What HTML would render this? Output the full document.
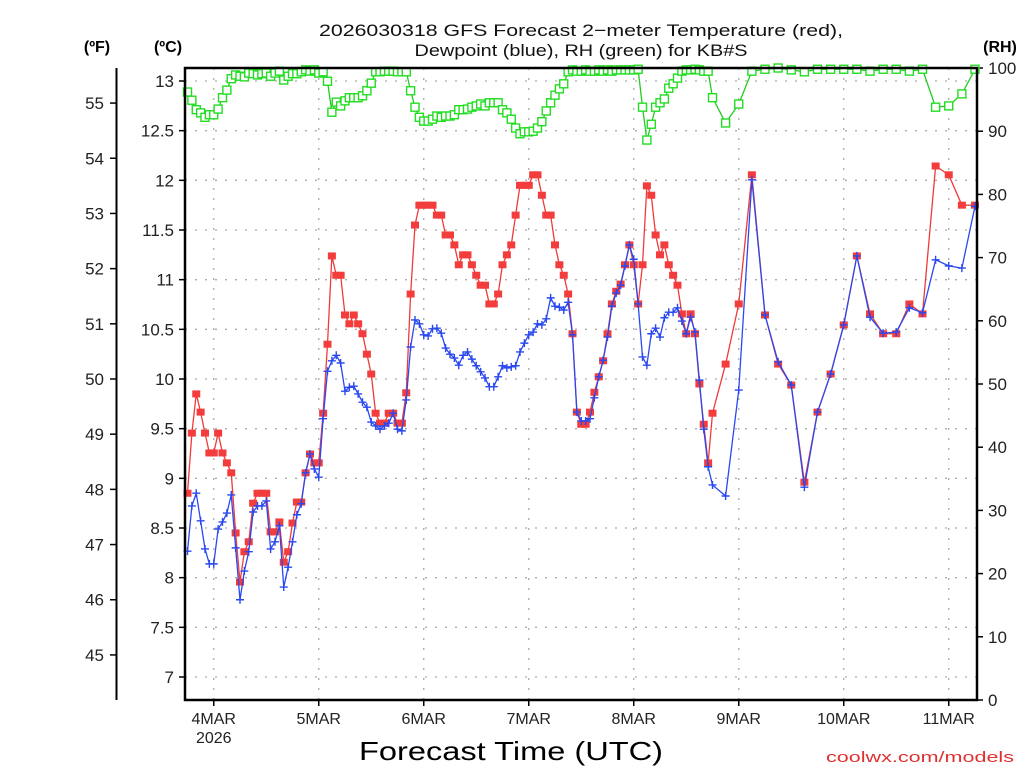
<!DOCTYPE html>
<html><head><meta charset="utf-8"><style>
html,body{margin:0;padding:0;background:#fff;}
svg{display:block;font-family:"Liberation Sans",sans-serif;}
</style></head><body>
<svg id="chart" width="1024" height="768" viewBox="0 0 1024 768" xmlns="http://www.w3.org/2000/svg">
<rect width="1024" height="768" fill="#fff"/>
<g fill="#111" font-size="17">
<text x="581" y="36" text-anchor="middle" textLength="524" lengthAdjust="spacingAndGlyphs">2026030318 GFS Forecast 2−meter Temperature (red),</text>
<text x="581" y="56" text-anchor="middle" textLength="333" lengthAdjust="spacingAndGlyphs">Dewpoint (blue), RH (green) for KB#S</text>
</g>
<text x="97" y="52" text-anchor="middle" font-size="16" font-weight="bold">(ºF)</text>
<text x="168" y="52" text-anchor="middle" font-size="16" font-weight="bold">(ºC)</text>
<text x="1000" y="52" text-anchor="middle" font-size="16" font-weight="bold">(RH)</text>
<g id="grid"></g>
<g id="axes"></g>
<g id="series"></g>
<rect x="185" y="68" width="792" height="632" fill="none" stroke="#000" stroke-width="2.5"/>
<text x="511" y="760" text-anchor="middle" font-size="26" textLength="304" lengthAdjust="spacingAndGlyphs">Forecast Time (UTC)</text>
<text x="1014" y="762" text-anchor="end" font-size="15" fill="#e03030" textLength="188" lengthAdjust="spacingAndGlyphs">coolwx.com/models</text>
</svg>
<script>
// Forecast hours (from 2026-03-03 18Z)
const hours = [];
for (let h = 0; h <= 120; h++) hours.push(h);
for (let h = 123; h <= 180; h += 3) hours.push(h);
const dayLabels = ["4MAR","5MAR","6MAR","7MAR","8MAR","9MAR","10MAR","11MAR"];
const celsiusTicks = [7,7.5,8,8.5,9,9.5,10,10.5,11,11.5,12,12.5,13];
const fahrenheitTicks = [45,46,47,48,49,50,51,52,53,54,55];
const rhTicks = [0,10,20,30,40,50,60,70,80,90,100];
// Temperature (°F)
const tempF = [47.93,49.02,49.73,49.40,49.02,48.66,48.66,49.02,48.66,48.48,48.30,47.21,46.32,46.87,47.05,47.75,47.93,47.93,47.93,47.23,47.23,47.41,46.68,46.87,47.39,47.77,47.77,48.30,48.64,48.48,48.48,49.38,50.63,52.23,51.88,51.88,51.16,51.00,51.16,51.00,50.82,50.45,50.09,49.38,49.20,49.20,49.38,49.38,49.20,49.20,49.75,51.54,52.79,53.15,53.15,53.15,53.15,52.97,52.97,52.61,52.61,52.43,52.07,52.25,52.25,52.07,51.88,51.70,51.70,51.36,51.36,51.54,52.07,52.25,52.43,52.97,53.51,53.51,53.51,53.70,53.70,53.33,52.97,52.97,52.43,52.07,51.88,51.54,50.82,49.40,49.18,49.18,49.40,49.76,50.04,50.33,50.82,51.36,51.59,51.72,52.07,52.43,52.07,51.36,52.07,53.50,53.33,52.61,52.25,52.43,52.07,51.88,51.70,51.18,50.82,51.18,50.82,49.91,49.18,48.48,49.38,
50.27,51.36,53.70,51.16,50.27,49.89,48.13,49.40,50.09,50.98,52.23,51.18,50.82,50.82,51.36,51.18,53.86,53.70,53.15,53.15];
// Dewpoint (°F)
const dewF = [46.88,47.70,47.93,47.43,46.92,46.65,46.65,47.28,47.41,47.57,47.90,46.94,46.00,46.52,46.87,47.59,47.70,47.70,47.79,46.92,47.05,47.34,46.23,46.59,47.05,47.54,47.74,48.30,48.64,48.37,48.22,49.28,50.14,50.33,50.43,50.29,49.78,49.85,49.87,49.73,49.58,49.49,49.22,49.15,49.09,49.15,49.20,49.38,49.09,49.06,49.62,50.58,51.07,51.00,50.80,50.78,50.91,50.92,50.83,50.56,50.45,50.38,50.25,50.43,50.49,50.36,50.24,50.13,50.02,49.86,49.86,50.04,50.24,50.20,50.22,50.24,50.49,50.65,50.80,50.85,51.00,50.98,51.09,51.47,51.32,51.30,51.25,51.39,50.80,49.40,49.24,49.24,49.28,49.66,50.04,50.34,50.76,51.32,51.56,51.70,52.05,52.43,52.17,51.36,50.40,50.25,50.82,50.92,50.76,51.11,51.21,51.21,51.29,51.05,50.82,51.12,50.85,49.98,49.09,48.41,48.08,
47.88,49.80,53.61,51.16,50.31,49.89,48.04,49.40,50.09,50.98,52.23,51.12,50.83,50.85,51.29,51.20,52.16,52.05,52.01,53.13];
// Relative humidity (%)
const rh = [96.2,94.9,93.4,92.9,92.2,92.6,92.6,93.5,95.3,96.5,98.3,98.9,98.7,98.6,99.2,99.1,98.9,99.1,99.2,98.7,99.2,99.5,98.1,98.7,99.1,99.1,99.4,99.7,99.5,99.7,99.2,99.4,97.9,93.0,94.6,94.0,94.8,95.3,95.3,95.3,95.6,96.4,97.6,99.4,99.4,99.5,99.5,99.5,99.4,99.4,99.4,96.4,93.8,92.2,91.6,91.6,91.9,92.4,92.2,92.4,92.4,92.6,93.4,93.4,93.5,93.8,94.0,94.3,94.0,94.5,94.5,94.5,93.4,92.9,91.9,90.5,89.6,89.9,89.9,90.0,90.5,91.5,93.2,94.5,95.7,96.7,97.5,99.4,99.7,99.5,99.5,99.7,99.5,99.5,99.7,99.5,99.7,99.5,99.7,99.7,99.7,99.7,99.7,99.8,93.8,88.6,91.1,93.8,94.5,95.1,96.8,97.5,98.4,99.5,99.7,99.7,99.8,99.7,99.5,99.5,95.3,
91.3,94.3,99.5,99.8,100,99.7,99.4,99.8,99.8,99.8,99.8,99.5,99.8,99.8,99.5,99.8,93.8,94.0,95.9,99.8];

const NS = "http://www.w3.org/2000/svg";
const X0 = 185, X1 = 977, Y0 = 68, Y1 = 700;
function xScale(h){ return 187.5 + h*4.375; }
function yC(c){ return 677 - (c-7)*(596/6); }
function yF(f){ return yC((f-32)/1.8); }
function yRH(r){ return Y1 - r*(Y1-Y0)/100; }
function mk(tag, attrs, parent){ const e=document.createElementNS(NS,tag); for(const k in attrs) e.setAttribute(k,attrs[k]); parent.appendChild(e); return e; }

const grid = document.getElementById('grid');
const axes = document.getElementById('axes');
const series = document.getElementById('series');

// horizontal gridlines + celsius ticks
celsiusTicks.forEach(c=>{
  const y=yC(c);
  const g=mk('line',{x1:X0,x2:X1,y1:y,y2:y,stroke:'#aaa','stroke-width':1.3,'stroke-dasharray':'2,8'},grid);
  
  
  const t=mk('line',{x1:X0-6,x2:X0,y1:y,y2:y,stroke:'#000','stroke-width':1.5},axes);
  
  
  const l=mk('text',{x:174,y:y+6,'text-anchor':'end','font-size':17,fill:'#222'},axes);
  
  
  l.textContent=String(c);
});
// fahrenheit axis
const fl=mk('line',{x1:116.5,x2:116.5,y1:Y0,y2:Y1,stroke:'#000','stroke-width':2},axes);


fahrenheitTicks.forEach(f=>{
  const y=yF(f);
  const t=mk('line',{x1:110,x2:116,y1:y,y2:y,stroke:'#000','stroke-width':1.5},axes);
  
  
  const l=mk('text',{x:104,y:y+6,'text-anchor':'end','font-size':17,fill:'#222'},axes);
  
  
  l.textContent=String(f);
});
// RH axis
rhTicks.forEach(r=>{
  const y=yRH(r);
  const t=mk('line',{x1:X1,x2:X1+6,y1:y,y2:y,stroke:'#000','stroke-width':1.5},axes);
  
  
  const l=mk('text',{x:988,y:y+6,'text-anchor':'start','font-size':17,fill:'#222'},axes);
  
  
  l.textContent=String(r);
});
// day ticks
dayLabels.forEach((d,i)=>{
  const x=xScale(6+24*i);
  const g=mk('line',{x1:x,x2:x,y1:Y0,y2:Y1,stroke:'#aaa','stroke-width':1.3,'stroke-dasharray':'2,8'},grid);
  
  
  const t=mk('line',{x1:x,x2:x,y1:Y1,y2:Y1+6,stroke:'#000','stroke-width':1.5},axes);
  
  
  const l=mk('text',{x:x,y:724,'text-anchor':'middle','font-size':16,fill:'#222'},axes);
  
  
  l.textContent=d;
  if(i===0){
    const yl=mk('text',{x:x,y:743,'text-anchor':'middle','font-size':16,fill:'#222'},axes);
    
    
    yl.textContent='2026';
  }
});

function drawLine(vals, yfn, color, name){
  const pts=vals.map((v,i)=>xScale(hours[i]).toFixed(2)+','+yfn(v).toFixed(2)).join(' ');
  const p=mk('polyline',{points:pts,fill:'none',stroke:color,'stroke-width':1.3},series);
  
  
}
// RH
drawLine(rh, yRH, '#22cc22', 'rh-line');
rh.forEach((v,i)=>{
  const x=xScale(hours[i]), y=yRH(v);
  const r=mk('rect',{x:x-4,y:y-4,width:8,height:8,fill:'#fff',stroke:'#22dd22','stroke-width':1.4},series);
  
  
});
// Temperature
drawLine(tempF, yF, '#f03a3a', 'temperature-line');
tempF.forEach((v,i)=>{
  const x=xScale(hours[i]), y=yF(v);
  const r=mk('rect',{x:x-4,y:y-3.5,width:8,height:7,fill:'#f33c3c'},series);
  
  
});
// Dewpoint
drawLine(dewF, yF, '#2a48f0', 'dewpoint-line');
dewF.forEach((v,i)=>{
  const x=xScale(hours[i]), y=yF(v);
  const p=mk('path',{d:`M${x-4},${y}H${x+4}M${x},${y-4}V${y+4}`,stroke:'#2a48f0','stroke-width':1.4,fill:'none'},series);
  
  
});
</script>
</body></html>
